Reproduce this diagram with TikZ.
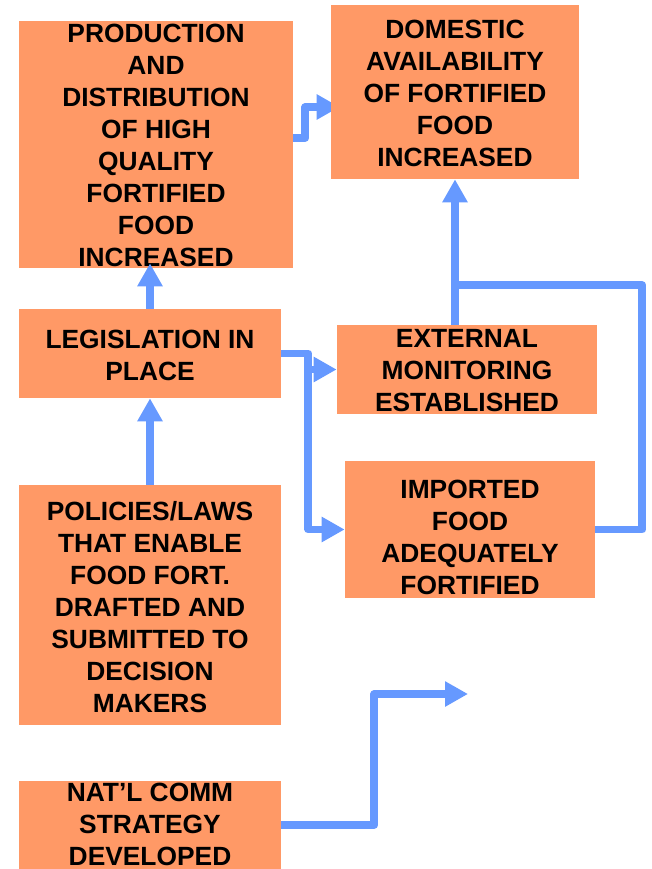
\documentclass[tikz,border=0pt]{standalone}
\usepackage{fontspec}
\setmainfont{Liberation Sans}
\usetikzlibrary{arrows.meta}
\definecolor{boxorange}{HTML}{FF9966}
\definecolor{linkblue}{HTML}{6699FF}
\pgfdeclarelayer{under}
\pgfsetlayers{under,main}
\tikzset{
  box/.style 2 args={fill=boxorange, inner sep=0pt, minimum width=#1*0.02cm, minimum height=#2*0.02cm},
  boxtext/.style={align=center, inner sep=0pt, font=\fontsize{15}{18.2}\selectfont\bfseries},
  wire/.style={linkblue, line width=0.155cm, line join=round},
  conn/.style={wire, -{Triangle[width=0.48cm,length=0.46cm]}},
}
\begin{document}
\begin{tikzpicture}[x=0.02cm, y=-0.02cm]
\useasboundingbox (0,0) rectangle (652,869);
% boxes
\node[box={274}{247}] (prod) at (156,144.5) {};
\node[boxtext] (prodtext) at (156,145.5) {PRODUCTION\\AND\\DISTRIBUTION\\OF HIGH\\QUALITY\\FORTIFIED\\FOOD\\INCREASED};
\node[box={248}{174}] (dom) at (455,92) {};
\node[boxtext] (domtext) at (455,93) {DOMESTIC\\AVAILABILITY\\OF FORTIFIED\\FOOD\\INCREASED};
\node[box={262}{89}] (leg) at (150,353.5) {};
\node[boxtext] (legtext) at (150,355) {LEGISLATION IN\\PLACE};
\node[box={260}{89}] (ext) at (467,369.5) {};
\node[boxtext] (exttext) at (467,371) {EXTERNAL\\MONITORING\\ESTABLISHED};
\node[box={250}{137}] (imp) at (470,529.5) {};
\node[boxtext] (imptext) at (470,537) {IMPORTED\\FOOD\\ADEQUATELY\\FORTIFIED};
\node[box={262}{240}] (pol) at (150,605) {};
\node[boxtext] (poltext) at (150,607) {POLICIES/LAWS\\THAT ENABLE\\FOOD FORT.\\DRAFTED AND\\SUBMITTED TO\\DECISION\\MAKERS};
\node[box={262}{88}] (nat) at (150,825) {};
\node[boxtext] (nattext) at (150,824) {NAT’L COMM\\STRATEGY\\DEVELOPED};

% connectors
\begin{pgfonlayer}{under}
\draw[conn, shorten >=-0.18cm] ([yshift=0.13cm]prod.east) -- ++(12,0) |- ([yshift=-0.3cm]dom.west);
\end{pgfonlayer}
\draw[conn, shorten >=-0.1cm] (leg.north) -- (leg.north |- prod.south);
\draw[conn] (pol.north) -- (leg.south);
\coordinate (bend) at ([xshift=0.54cm]leg.east);
\draw[conn] (leg.east) -- (bend) |- (imp.west);
\draw[conn] (bend |- ext.west) -- (ext.west);
\coordinate (join) at (455,285);
\draw[wire] (imp.east) -- ++(47,0) |- (join);
\draw[conn] (ext.north -| dom.south) -- (dom.south);
\coordinate (natend) at (468,694);
\draw[conn] (nat.east) -- ++(93,0) |- (natend);
\end{tikzpicture}
\end{document}
